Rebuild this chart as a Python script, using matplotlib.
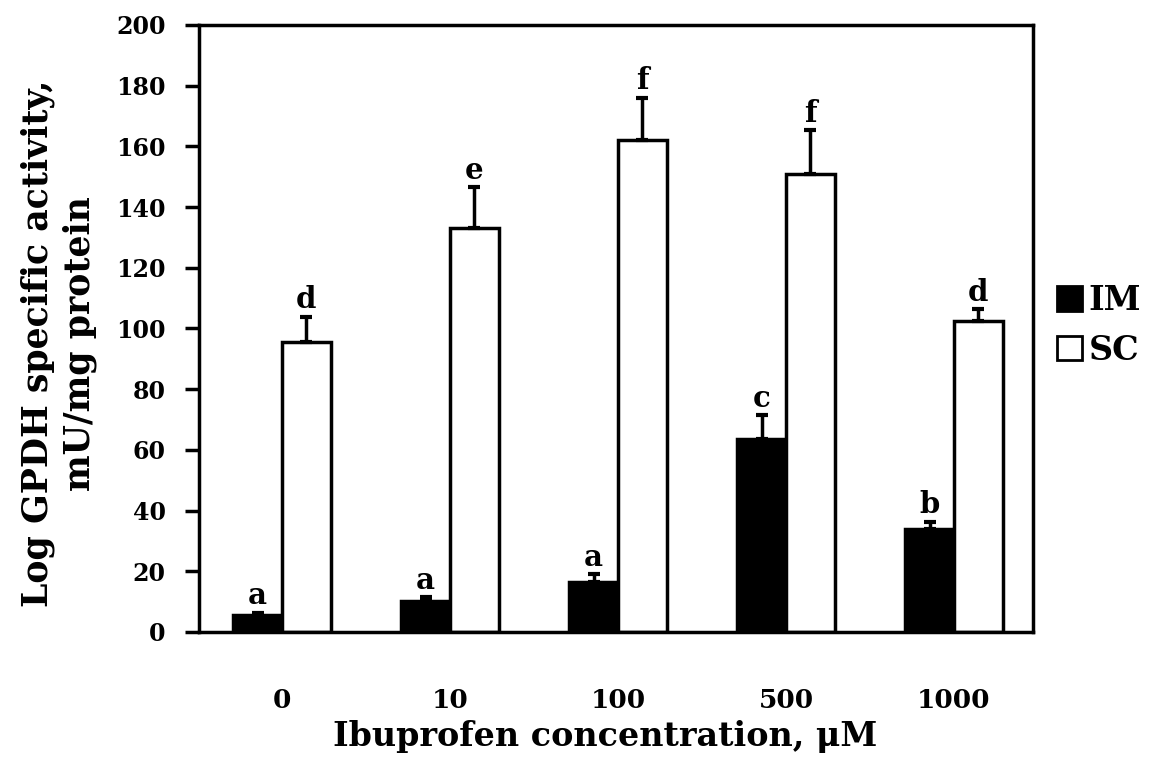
import numpy as np
import matplotlib
matplotlib.use('Agg')
from matplotlib import pyplot as plt
from matplotlib.patches import Patch

concentrations = ['0', '10', '100', '500', '1000']
im_values = [5.6, 10.3, 16.6, 63.5, 33.8]
im_errors = [0.8, 1.2, 2.5, 8.0, 2.6]
sc_values = [95.7, 133.0, 162.1, 150.8, 102.5]
sc_errors = [8.2, 13.5, 14.0, 14.6, 3.8]
im_letters = ['a', 'a', 'a', 'c', 'b']
sc_letters = ['d', 'e', 'f', 'f', 'd']

plt.rcParams['font.family'] = ['DejaVu Serif']
plt.rcParams['font.weight'] = 'bold'

fig = plt.figure(figsize=(11.54, 7.64), dpi=100)
ax = fig.add_axes([0.1724, 0.1728, 0.7227, 0.7945])

x = np.arange(len(concentrations))
w = 0.29
lw = 2.5

ax.bar(x - w / 2, im_values, w, color='black', edgecolor='black', linewidth=lw, zorder=2)
ax.bar(x + w / 2, sc_values, w, color='white', edgecolor='black', linewidth=lw, zorder=2)

zeros = [0] * len(x)
ax.errorbar(x - w / 2, im_values, yerr=[zeros, im_errors], fmt='none', ecolor='black',
            elinewidth=2.5, capsize=4, capthick=3, zorder=3)
ax.errorbar(x + w / 2, sc_values, yerr=[zeros, sc_errors], fmt='none', ecolor='black',
            elinewidth=2.5, capsize=4, capthick=3, zorder=3)

for i in range(len(x)):
    ax.text(x[i] - w / 2, im_values[i] + im_errors[i] + 0.8, im_letters[i],
            ha='center', va='bottom', fontsize=21, fontweight='bold')
    ax.text(x[i] + w / 2, sc_values[i] + sc_errors[i] + 0.8, sc_letters[i],
            ha='center', va='bottom', fontsize=21, fontweight='bold')

ax.set_xlim(-0.494, 4.47)
ax.set_ylim(0, 200)
ax.set_yticks(np.arange(0, 201, 20))
ax.set_xticks(x)
ax.set_xticklabels(concentrations)
ax.tick_params(axis='x', length=0, pad=40, labelsize=19)
ax.tick_params(axis='y', direction='out', length=10, width=2.5, pad=14, labelsize=17)
for s in ax.spines.values():
    s.set_linewidth(2.5)

ax.set_xlabel('Ibuprofen concentration, μM', fontsize=24, fontweight='bold')
ax.xaxis.set_label_coords(0.487, -0.145)
ax.set_ylabel('Log GPDH specific activity,\nmU/mg protein', fontsize=25,
              fontweight='bold', linespacing=1.3)
ax.yaxis.set_label_coords(-0.122, 0.475)

handles = [Patch(facecolor='black', edgecolor='black', linewidth=2),
           Patch(facecolor='white', edgecolor='black', linewidth=2)]
fig.legend(handles, ['IM', 'SC'], loc='center left', bbox_to_anchor=(0.89, 0.574),
           frameon=False, fontsize=24, handlelength=0.75, handleheight=0.75,
           handletextpad=0.2, labelspacing=0.5)

fig.savefig('out.png', dpi=100)
